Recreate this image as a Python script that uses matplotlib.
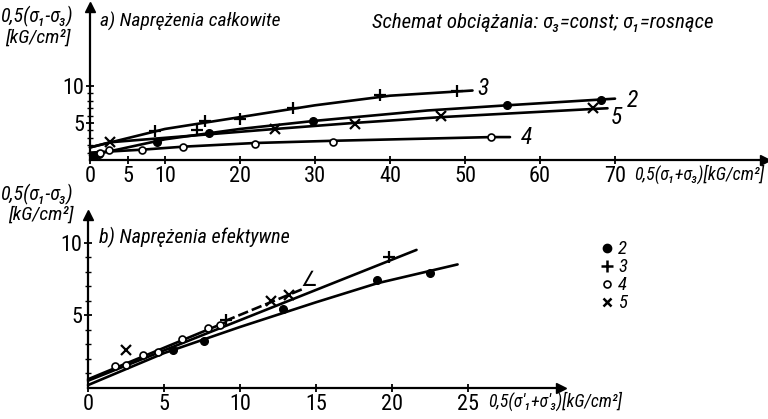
import matplotlib
matplotlib.use("Agg")
import matplotlib.pyplot as plt
from matplotlib.lines import Line2D

FAM = ['Liberation Sans Narrow', 'Roboto Condensed', 'DejaVu Sans']
plt.rcParams['font.family'] = FAM
plt.rcParams['font.stretch'] = 'condensed'

# ---------------- data: panel a) total stresses ----------------
a_curve3_x = [0, 10, 20, 30, 40, 51]
a_curve3_y = [1.7, 4.2, 5.8, 7.4, 8.7, 9.4]
a_pts3_x = [8.7, 14.3, 15.3, 20.0, 27.1, 38.7, 48.9]
a_pts3_y = [3.9, 4.0, 5.3, 5.5, 7.0, 8.8, 9.4]

a_curve2_x = [0, 10, 20, 30, 45, 55.6, 70]
a_curve2_y = [0.6, 2.8, 4.2, 5.3, 6.7, 7.4, 8.3]
a_pts2_x = [0.5, 1.2, 8.9, 15.8, 29.7, 55.6, 68.1]
a_pts2_y = [0.6, 0.8, 2.4, 3.6, 5.3, 7.4, 8.1]

a_curve5_x = [0, 2.7, 10, 24.7, 35, 46.8, 67, 69]
a_curve5_y = [1.7, 2.4, 3.0, 4.2, 5.0, 5.8, 6.9, 7.0]
a_pts5_x = [2.7, 24.7, 35.3, 46.8, 67.0]
a_pts5_y = [2.4, 4.2, 4.9, 5.9, 7.0]

a_curve4_x = [0, 7, 12.4, 22, 32.4, 53.5, 56]
a_curve4_y = [1.0, 1.4, 1.8, 2.3, 2.6, 3.1, 3.1]
a_pts4_x = [1.3, 2.5, 6.9, 12.4, 22.0, 32.4, 53.5]
a_pts4_y = [1.0, 1.3, 1.3, 1.8, 2.2, 2.5, 3.1]

a_labels = ['3', '2', '5', '4']
a_label_x = [51.7, 71.6, 69.5, 57.5]
a_label_y = [9.7, 8.1, 5.8, 3.0]

a_xticks = [0, 5, 10, 20, 30, 40, 50, 60, 70]
a_yticks = [5, 10]

# ---------------- data: panel b) effective stresses ----------------
b_curve2_x = [0, 5, 10, 15, 19, 24.3]
b_curve2_y = [0.2, 2.4, 4.2, 5.9, 7.2, 8.5]
b_pts2_x = [5.6, 7.6, 12.8, 19.0, 22.5]
b_pts2_y = [2.6, 3.2, 5.4, 7.4, 7.9]

b_curve3_x = [0, 21.6]
b_curve3_y = [0.5, 9.5]
b_pts3_x = [9.1, 19.8]
b_pts3_y = [4.7, 9.0]

b_curve4_x = [0, 9.0]
b_curve4_y = [0.6, 4.5]
b_pts4_x = [1.8, 2.5, 3.6, 4.6, 6.2, 7.9, 8.7]
b_pts4_y = [1.5, 1.6, 2.3, 2.5, 3.4, 4.1, 4.3]

b_curve5_x = [9.0, 14.1]
b_curve5_y = [4.6, 6.8]
b_pts5_x = [2.5, 12.0, 13.2]
b_pts5_y = [2.6, 6.0, 6.4]

b_xticks = [0, 5, 10, 15, 20, 25]
b_yticks = [5, 10]

legend_labels = ['2', '3', '4', '5']

# ---------------- figure ----------------
fig = plt.figure(figsize=(7.68, 4.19), dpi=100)
W, H = 768.0, 419.0

axA = fig.add_axes([90 / W, 1 - 160 / H, 675 / W, 153 / H])
axB = fig.add_axes([88 / W, 1 - 388 / H, 473 / W, 173 / H])

LW = 1.9
MK = dict(color='black')


def style(ax, xticks, yticks, xlim, ylim, ymin_ticks):
    ax.set_xlim(*xlim)
    ax.set_ylim(*ylim)
    for s in ['top', 'right']:
        ax.spines[s].set_visible(False)
    for s in ['left', 'bottom']:
        ax.spines[s].set_linewidth(1.6)
    ax.set_xticks(xticks)
    ax.set_xticklabels([str(t) for t in xticks])
    ax.set_yticks(yticks)
    ax.set_yticklabels([str(t) for t in yticks])
    ax.set_yticks(ymin_ticks, minor=True)
    ax.tick_params(axis='both', which='major', direction='inout', length=6,
                   width=1.3, labelsize=16, pad=1)
    ax.tick_params(axis='y', which='minor', direction='inout', length=4, width=1.0)
    ax.patch.set_alpha(0)
    # arrows at ends of axes
    ax.plot(1, 0, '>k', ms=7, transform=ax.get_yaxis_transform(), clip_on=False)
    ax.plot(0, 1, '^k', ms=7, transform=ax.get_xaxis_transform(), clip_on=False)


style(axA, a_xticks, a_yticks, (0, 90), (0, 20.7), [1, 2, 3, 4, 6, 7, 8, 9])
style(axB, b_xticks, b_yticks, (0, 31.1), (0, 11.9), [1, 2, 3, 4, 6, 7, 8, 9])

# panel a curves
for cx, cy in [(a_curve3_x, a_curve3_y), (a_curve2_x, a_curve2_y),
               (a_curve5_x, a_curve5_y), (a_curve4_x, a_curve4_y)]:
    axA.plot(cx, cy, '-', color='black', lw=LW, solid_capstyle='round', clip_on=False)
axA.plot(a_pts3_x, a_pts3_y, '+', ms=9, mew=1.6, clip_on=False, **MK)
axA.plot(a_pts2_x, a_pts2_y, 'o', ms=5.5, mfc='black', clip_on=False, **MK)
axA.plot(a_pts5_x, a_pts5_y, 'x', ms=7, mew=1.6, clip_on=False, **MK)
axA.plot(a_pts4_x, a_pts4_y, 'o', ms=5, mfc='white', mew=1.2, clip_on=False, **MK)
for t, x, y in zip(a_labels, a_label_x, a_label_y):
    axA.text(x, y, t, fontsize=17, style='italic', ha='left', va='center')

# panel b curves
for cx, cy in [(b_curve2_x, b_curve2_y), (b_curve3_x, b_curve3_y),
               (b_curve4_x, b_curve4_y)]:
    axB.plot(cx, cy, '-', color='black', lw=LW, solid_capstyle='round', clip_on=False)
axB.plot(b_curve5_x, b_curve5_y, '--', color='black', lw=LW, dashes=(4, 1.5))
axB.plot(b_pts2_x, b_pts2_y, 'o', ms=5.5, mfc='black', **MK)
axB.plot(b_pts3_x, b_pts3_y, '+', ms=9, mew=1.6, **MK)
axB.plot(b_pts4_x, b_pts4_y, 'o', ms=5, mfc='white', mew=1.2, **MK)
axB.plot(b_pts5_x, b_pts5_y, 'x', ms=7, mew=1.6, **MK)
axB.text(14.5, 7.4, '∠', fontsize=15, ha='center', va='center', family=FAM)

# legend
handles = [Line2D([], [], ls='none', marker='o', ms=6, mfc='black', color='black'),
           Line2D([], [], ls='none', marker='+', ms=9, mew=1.8, color='black'),
           Line2D([], [], ls='none', marker='o', ms=5, mfc='white', mew=1.2, color='black'),
           Line2D([], [], ls='none', marker='x', ms=6, mew=1.8, color='black')]
fig.legend(handles, legend_labels, loc='upper left', bbox_to_anchor=(592 / W, 1 - 231 / H),
           frameon=False, handlelength=0.6, handletextpad=0.3, labelspacing=0.0,
           borderpad=0, prop={'size': 13.5, 'style': 'italic', 'family': FAM})

# texts
IT = dict(style='italic', family=FAM)
fig.text(0 / W, 1 - 16 / H, '0,5(σ₁-σ₃)', fontsize=14.5, va='center', ha='left', **IT)
fig.text(5 / W, 1 - 38 / H, '[kG/cm²]', fontsize=14, va='center', ha='left', **IT)
fig.text(100 / W, 1 - 21 / H, 'a) Naprężenia całkowite', fontsize=14, va='center', ha='left', **IT)
fig.text(372 / W, 1 - 22 / H, 'Schemat obciążania: σ₃=const; σ₁=rosnące', fontsize=15,
         va='center', ha='left', **IT)
fig.text(634 / W, 1 - 174 / H, '0,5(σ₁+σ₃)[kG/cm²]', fontsize=13, va='center', ha='left', **IT)

fig.text(0 / W, 1 - 194 / H, '0,5(σ₁-σ₃)', fontsize=14.5, va='center', ha='left', **IT)
fig.text(8 / W, 1 - 215 / H, '[kG/cm²]', fontsize=14, va='center', ha='left', **IT)
fig.text(99 / W, 1 - 237 / H, 'b) Naprężenia efektywne', fontsize=14.5, va='center', ha='left', **IT)
fig.text(488 / W, 1 - 401 / H, "0,5(σ'₁+σ'₃)[kG/cm²]", fontsize=12.8, va='center', ha='left', **IT)

fig.savefig('out.png', dpi=100, facecolor='white')
